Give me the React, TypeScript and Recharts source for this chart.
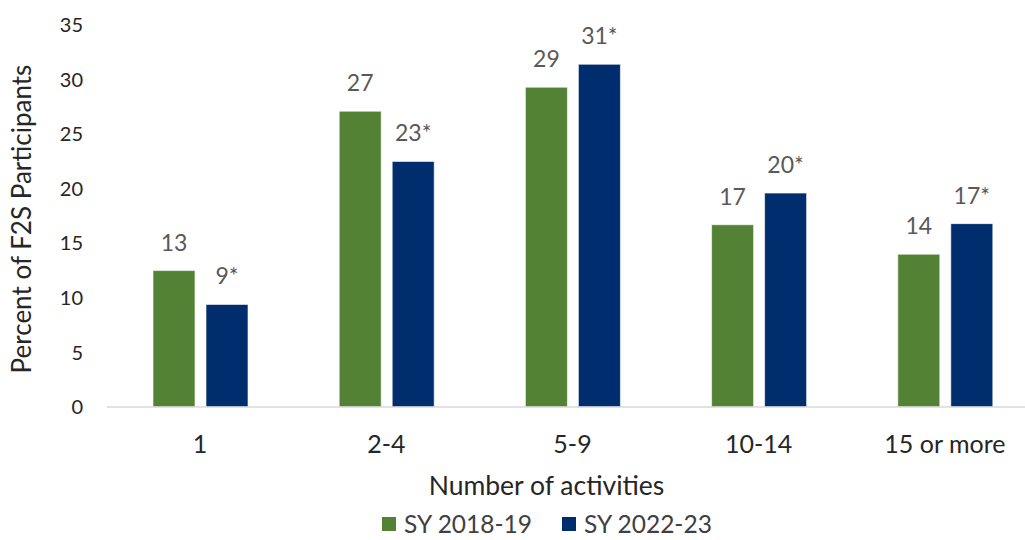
import { Bar, BarChart, LabelList, Legend, XAxis, YAxis } from 'recharts'

const categories = ['1', '2-4', '5-9', '10-14', '15 or more']
const sy1819 = [12.5, 27.1, 29.3, 16.7, 14.0]
const sy2223 = [9.4, 22.5, 31.4, 19.6, 16.8]
const sy1819Labels = ['13', '27', '29', '17', '14']
const sy2223Labels = ['9*', '23*', '31*', '20*', '17*']
const yTicks = [0, 5, 10, 15, 20, 25, 30, 35]

const GREEN = '#548235'
const BLUE = '#002D6E'
const FONT = 'Lato, "Open Sans", sans-serif'

const data = categories.map((name, i) => ({
  name,
  a: sy1819[i],
  b: sy2223[i],
  aLabel: sy1819Labels[i],
  bLabel: sy2223Labels[i]
}))

function renderLegend() {
  const items = [
    { label: 'SY 2018-19', color: GREEN },
    { label: 'SY 2022-23', color: BLUE }
  ]
  return (
    <div
      style={{
        display: 'flex',
        justifyContent: 'center',
        alignItems: 'center',
        marginLeft: 56,
        paddingTop: 12,
        fontFamily: FONT,
        fontSize: 24.5,
        color: '#404040',
        lineHeight: '20px'
      }}
    >
      {items.map((it, i) => (
        <div key={it.label} style={{ display: 'flex', alignItems: 'center', marginLeft: i ? 30 : 0 }}>
          <span style={{ width: 14, height: 14, background: it.color, marginRight: 8 }} />
          <span>{it.label}</span>
        </div>
      ))}
    </div>
  )
}

export default function App() {
  return (
    <div
      style={{
        position: 'absolute',
        left: 0,
        top: 0,
        width: 1025,
        height: 540,
        overflow: 'hidden',
        background: '#fff',
        fontFamily: FONT
      }}
    >
      <BarChart
        width={1045}
        height={540}
        data={data}
        margin={{ top: 25, right: 7, bottom: 0, left: 0 }}
        barSize={42}
        barGap={11}
      >
        <XAxis
          dataKey="name"
          height={95}
          tickLine={false}
          tickSize={0}
          tickMargin={28}
          axisLine={{ stroke: '#d9d9d9', strokeWidth: 1.5 }}
          tick={{ fill: '#262626', fontSize: 25, fontFamily: FONT }}
          label={{
            content: ({ viewBox }: any) => (
              <text
                x={viewBox.x + viewBox.width / 2 - 26}
                y={viewBox.y + 88}
                textAnchor="middle"
                fill="#262626"
                fontSize={26.5}
                fontFamily={FONT}
              >
                Number of activities
              </text>
            )
          }}
        />
        <YAxis
          width={107}
          domain={[0, 35]}
          ticks={yTicks}
          axisLine={false}
          tickLine={false}
          tickSize={0}
          tickMargin={24}
          tick={{ fill: '#262626', fontSize: 20, fontFamily: FONT }}
          label={{
            content: ({ viewBox }: any) => (
              <text
                x={31}
                y={viewBox.y + viewBox.height / 2 + 3}
                transform={`rotate(-90 31 ${viewBox.y + viewBox.height / 2 + 3})`}
                textAnchor="middle"
                fill="#262626"
                fontSize={26}
                fontFamily={FONT}
              >
                Percent of F2S Participants
              </text>
            )
          }}
        />
        <Legend verticalAlign="bottom" height={38} content={renderLegend} />
        <Bar dataKey="a" name="SY 2018-19" fill={GREEN} stroke="#ffffff" strokeWidth={0.6} isAnimationActive={false}>
          <LabelList dataKey="aLabel" position="top" offset={20} fill="#595959" fontSize={23} fontFamily={FONT} />
        </Bar>
        <Bar dataKey="b" name="SY 2022-23" fill={BLUE} stroke="#ffffff" strokeWidth={0.6} isAnimationActive={false}>
          <LabelList dataKey="bLabel" position="top" offset={20} fill="#595959" fontSize={23} fontFamily={FONT} />
        </Bar>
      </BarChart>
    </div>
  )
}
